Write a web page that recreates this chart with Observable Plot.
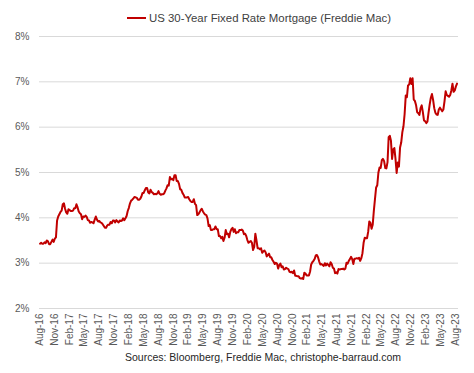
<!DOCTYPE html>
<html><head><meta charset="utf-8">
<script src="https://cdn.jsdelivr.net/npm/d3@7"></script>
<script src="https://cdn.jsdelivr.net/npm/@observablehq/plot@0.6"></script>
<style>
body{margin:0;background:#fff;font-family:"Liberation Sans",Arial,sans-serif;}
#wrap{width:474px;height:373px;position:relative;overflow:hidden;}
#legend{position:absolute;left:127px;top:10px;height:16px;line-height:16px;font-size:11.4px;color:#404040;white-space:nowrap;}
#legend .sw{display:inline-block;width:19px;height:2px;background:#c00000;vertical-align:middle;margin-right:3px;position:relative;top:-1px;}
#chart{position:absolute;left:0;top:28px;}
#caption{position:absolute;left:125px;top:349px;height:16px;line-height:16px;font-size:10.5px;color:#262626;white-space:nowrap;}
</style></head>
<body>
<div id="wrap">
  <div id="legend"><span class="sw"></span>US 30-Year Fixed Rate Mortgage (Freddie Mac)</div>
  <div id="chart"></div>
  <div id="caption">Sources: Bloomberg, Freddie Mac, christophe-barraud.com</div>
</div>
<script>
// Weekly Freddie Mac 30Y fixed rate (%), first week of each array listed
const firstWeek = "2016-08-04";
const r2016 = [3.43,3.45,3.43,3.43, 3.46,3.44,3.50,3.48,3.42, 3.42,3.47,3.52,3.47, 3.54,3.57,3.94,4.03, 4.08,4.13,4.16,4.30,4.32];
const r2017 = [4.20,4.12,4.09,4.19, 4.17,4.15,4.15,4.16, 4.21,4.21,4.30,4.23,4.14, 4.10,4.08,3.97,4.03, 4.02,4.05,4.02,3.95,
               3.94,3.89,3.91,3.90,3.88, 3.96,4.03,3.96,3.92, 3.93,3.90,3.89,3.86,3.82, 3.78,3.78,3.83,3.85, 3.85,3.91,3.88,3.94,
               3.94,3.90,3.95,3.92,3.90, 3.94,3.93,3.94,3.99];
const r2018 = [3.95,3.99,4.04,4.15, 4.22,4.32,4.38,4.40, 4.43,4.46,4.45,4.44,4.40, 4.40,4.42,4.47,4.55, 4.55,4.61,4.66,4.66,4.56,
               4.54,4.62,4.57,4.55, 4.52,4.53,4.52,4.54, 4.59,4.53,4.51,4.52,4.52, 4.54,4.60,4.65,4.72, 4.71,4.90,4.85,4.86,
               4.83,4.94,4.94,4.81,4.81, 4.75,4.63,4.62,4.55];
const r2019 = [4.51,4.45,4.45,4.45,4.46, 4.41,4.37,4.35,4.35, 4.41,4.31,4.28,4.06, 4.08,4.12,4.17,4.20, 4.14,4.10,4.07,4.06,3.99,
               3.82,3.84,3.73,3.73, 3.75,3.75,3.81,3.75, 3.75,3.60,3.60,3.55,3.58, 3.49,3.56,3.73,3.64, 3.65,3.57,3.69,3.75,3.78,
               3.69,3.75,3.66,3.68, 3.68,3.73,3.73,3.74];
const r2020 = [3.72,3.64,3.65,3.60,3.51, 3.45,3.47,3.49,3.45, 3.29,3.36,3.65,3.50, 3.33,3.33,3.31,3.33,3.23, 3.26,3.28,3.24,3.15,
               3.18,3.21,3.13,3.13, 3.07,3.03,2.98,3.01,2.99, 2.88,2.96,2.99,2.91, 2.93,2.86,2.87,2.90, 2.88,2.87,2.81,2.80,2.81,
               2.78,2.84,2.72,2.72, 2.71,2.71,2.67,2.66,2.67];
const r2021 = [2.65,2.79,2.77,2.73, 2.73,2.73,2.81,2.97, 3.02,3.05,3.09,3.17, 3.18,3.13,3.04,2.97,2.98, 2.96,2.94,3.00,2.95,
               2.99,2.96,2.93,3.02, 2.98,2.90,2.88,2.78,2.80, 2.77,2.87,2.86,2.87, 2.87,2.88,2.86,2.88,3.01, 2.99,3.05,3.09,3.14,
               3.09,2.98,3.10,3.10, 3.11,3.10,3.12,3.05,3.11];
const r2022 = [3.22,3.45,3.56,3.55, 3.55,3.69,3.92,3.89, 3.76,3.85,4.16,4.42,4.67, 4.72,5.00,5.11,5.10, 5.27,5.30,5.25,5.10,
               5.09,5.23,5.78,5.81,5.70, 5.30,5.51,5.54,5.30, 4.99,5.22,5.13,5.55, 5.66,5.89,6.02,6.29,6.70, 6.66,6.92,6.94,7.08,
               6.95,7.08,6.61,6.58, 6.49,6.33,6.31,6.27,6.42];
const r2023 = [6.48,6.33,6.15,6.13, 6.09,6.12,6.32,6.50, 6.65,6.73,6.60,6.42,6.32, 6.28,6.27,6.39,6.43, 6.39,6.35,6.39,6.57,
               6.79,6.71,6.69,6.67,6.71, 6.81,6.96,6.78,6.81, 6.90,6.96];

const tickLabels = ["Aug-16","Nov-16","Feb-17","May-17","Aug-17","Nov-17","Feb-18","May-18","Aug-18","Nov-18","Feb-19","May-19","Aug-19","Nov-19","Feb-20","May-20","Aug-20","Nov-20","Feb-21","May-21","Aug-21","Nov-21","Feb-22","May-22","Aug-22","Nov-22","Feb-23","May-23","Aug-23"];
const yTicks = [2,3,4,5,6,7,8];
const xDomain = ["2016-08-01","2023-08-19"];

const rates = [].concat(r2016,r2017,r2018,r2019,r2020,r2021,r2022,r2023);
const start = new Date(firstWeek + "T00:00:00Z");
const data = rates.map((v,i) => ({date: d3.utcWeek.offset(start, i), rate: v}));
const parseTick = d3.utcParse("%b-%y");
const tickDates = tickLabels.map(parseTick);
const fmtTick = d3.utcFormat("%b-%y");

const plot = Plot.plot({
  width: 474,
  height: 322,
  marginTop: 8,
  marginBottom: 42,
  marginLeft: 39,
  marginRight: 16,
  style: {fontFamily: "Liberation Sans, Arial, sans-serif", fontSize: "10px", color: "#595959", background: "#fff"},
  x: {type: "utc", domain: xDomain.map(d => new Date(d + "T00:00:00Z")), ticks: tickDates, tickFormat: fmtTick, tickRotate: -90, tickSize: 0, tickPadding: 5, label: null},
  y: {domain: [2, 8], ticks: yTicks, tickFormat: d => d + "%", tickSize: 0, tickPadding: 10, label: null},
  marks: [
    Plot.ruleY(yTicks, {stroke: "#d9d9d9", strokeWidth: 1}),
    Plot.line(data, {x: "date", y: "rate", stroke: "#c00000", strokeWidth: 2, strokeLinejoin: "round"})
  ]
});
document.getElementById("chart").appendChild(plot);
</script>
</body></html>
